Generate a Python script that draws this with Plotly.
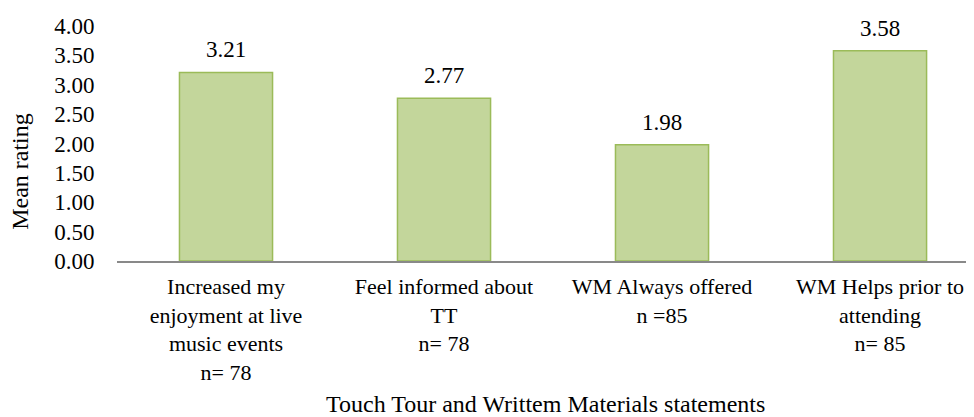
import plotly.graph_objects as go

# Chart data
categories = [
    "Increased my<br>enjoyment at live<br>music events<br>n= 78",
    "Feel informed about<br>TT<br>n= 78",
    "WM Always offered<br>n =85",
    "WM Helps prior to<br>attending<br>n= 85",
]
mean_rating = [3.21, 2.77, 1.98, 3.58]
y_ticks = [0, 0.5, 1.0, 1.5, 2.0, 2.5, 3.0, 3.5, 4.0]

font_family = "Liberation Serif"
bar_fill = "#C3D69B"
bar_edge = "#9BBB59"

fig = go.Figure()

fig.add_trace(
    go.Bar(
        x=list(range(len(categories))),
        y=mean_rating,
        marker=dict(color=bar_fill, line=dict(color=bar_edge, width=1.5)),
        showlegend=False,
    )
)

# value labels above bars
for i, v in enumerate(mean_rating):
    fig.add_annotation(
        x=i, y=v, text=f"{v:.2f}", showarrow=False,
        yanchor="bottom", yshift=8,
        font=dict(family=font_family, size=23, color="#000000"),
    )

# axis titles
fig.add_annotation(
    text="Touch Tour and Writtem Materials statements",
    xref="paper", yref="paper", x=0.5, y=-0.61,
    xanchor="center", yanchor="middle", showarrow=False,
    font=dict(family=font_family, size=24, color="#000000"),
)
fig.add_annotation(
    text="Mean rating",
    xref="paper", yref="paper", x=-0.113, y=0.38,
    xanchor="center", yanchor="middle", showarrow=False, textangle=-90,
    font=dict(family=font_family, size=24, color="#000000"),
)

# page body has an 8px margin, so the figure is shrunk by that much
fig.update_layout(
    width=966, height=409,
    margin=dict(l=109, r=0, t=18, b=156),
    bargap=0.573,
    plot_bgcolor="white",
    paper_bgcolor="white",
    font=dict(family=font_family, size=23, color="#000000"),
)
fig.update_xaxes(
    range=[-0.5, 3.431],
    tickvals=list(range(len(categories))),
    ticktext=categories,
    tickangle=0,
    showline=True, linecolor="#898989", linewidth=1.5,
    showgrid=False, zeroline=False,
    ticks="outside", ticklen=5, tickcolor="rgba(0,0,0,0)",
    tickfont=dict(family=font_family, size=22),
)
fig.update_yaxes(
    range=[0, 4],
    tickvals=y_ticks,
    tickformat=".2f",
    showgrid=False, zeroline=False, showline=False,
    ticks="outside", ticklen=17, tickcolor="rgba(0,0,0,0)",
    tickfont=dict(family=font_family, size=23),
)

fig.write_html("out.html")
